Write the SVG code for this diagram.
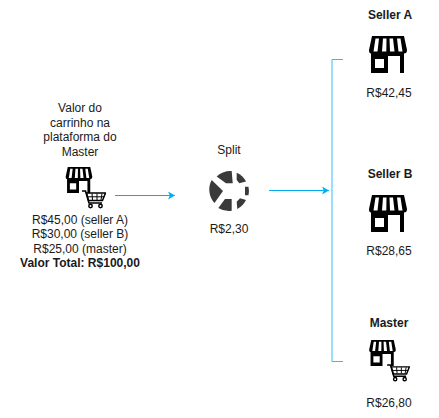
<svg xmlns="http://www.w3.org/2000/svg" xmlns:xlink="http://www.w3.org/1999/xlink" width="439" height="418" viewBox="0 0 439 418">
<style>
text{font-family:"Liberation Sans",Arial,sans-serif;font-size:12px;fill:#1a1a1a;text-anchor:middle}
.b{font-weight:bold}
.c{fill:none;stroke:#00aeef;stroke-width:1}
</style>
<defs>
<marker id="a" markerWidth="8" markerHeight="8" refX="7" refY="4" orient="auto" markerUnits="userSpaceOnUse"><path d="M0 0L7 4L0 8L1.8 4Z" fill="#00aeef"/></marker>
<symbol id="store" viewBox="0 0 38 37">
<path fill="#000" fill-rule="evenodd" d="M3 0H35L38 14Q38 17.500 35 17.500V37H31V20H19V37H2V17.500Q0 17.500 0 14ZM6 23V32H15V23Z"/>
<path fill="#fff" d="M6.500 2.500H10L8.500 15.500H4.500ZM14 2.500H17.500L17.300 15.500H13ZM20.500 2.500H24L25.500 15.500H21ZM28 2.500H31.500L33.500 15.500H29.500Z"/>
</symbol>
<symbol id="cart" viewBox="0 0 24 19">
<g fill="none" stroke="#000">
<path stroke-width="1.6" d="M0 1H3.500L7 13H20"/>
<path stroke-width="1.500" d="M4.500 3H23.500L20.500 10.500H6.500Z"/>
<path stroke-width="1" d="M10 3.500L10.500 10M15 3.500V10M20 3.500L19 10M5.500 6.800H22"/>
<circle cx="8.500" cy="16" r="1.700" stroke-width="1.500"/>
<circle cx="18.500" cy="16" r="1.700" stroke-width="1.500"/>
</g>
</symbol>
</defs>
<g id="connectors">
<path class="c" d="M115 195.500H175" marker-end="url(#a)"/>
<path class="c" d="M269 190.500H329" marker-end="url(#a)"/>
<path class="c" d="M343 59.500H332V361.500H343" style="stroke:#33bef2"/>
</g>
<g id="cart-node">
<text x="80" y="112">Valor do</text>
<text x="80" y="126.500">carrinho na</text>
<text x="80" y="141">plataforma do</text>
<text x="80" y="155.500">Master</text>
<use xlink:href="#store" href="#store" x="65" y="167" width="28" height="26"/>
<use xlink:href="#cart" href="#cart" x="82" y="190" width="24" height="19"/>
<text x="80" y="224">R$45,00 (seller A)</text>
<text x="80" y="238">R$30,00 (seller B)</text>
<text x="80" y="253">R$25,00 (master)</text>
<text x="80" y="267" class="b">Valor Total: R$100,00</text>
</g>
<g id="split">
<text x="229" y="154">Split</text>
<g fill="#3a3a3a">
<path d="M211.700 180A20 20 0 0 0 214.500 203L223 191Z"/>
<path d="M216.700 176.500A20 20 0 0 1 231.700 171L232.700 183.300H226Z"/>
<path d="M236.700 172.800A20 20 0 0 1 246 181.500L239.300 183.300L236.700 180Z"/>
<path d="M245 186.700H248.500A20 20 0 0 1 248.500 195.300H245Z"/>
<path d="M246 200A20 20 0 0 1 237.300 209L236.700 201.700L240 198.300Z"/>
<path d="M231.700 210.800A20 20 0 0 1 218.300 208L225 199H231.700Z"/>
</g>
<text x="229" y="233">R$2,30</text>
</g>
<g id="seller-a">
<text x="390" y="19" class="b">Seller A</text>
<use xlink:href="#store" href="#store" x="369" y="36" width="38" height="37"/>
<text x="389" y="97">R$42,45</text>
</g>
<g id="seller-b">
<text x="390" y="178" class="b">Seller B</text>
<use xlink:href="#store" href="#store" x="369" y="195" width="38" height="37"/>
<text x="389" y="255">R$28,65</text>
</g>
<g id="master">
<text x="389" y="327" class="b">Master</text>
<use xlink:href="#store" href="#store" x="369" y="340" width="27" height="26"/>
<use xlink:href="#cart" href="#cart" x="387" y="364" width="23" height="18"/>
<text x="389" y="407">R$26,80</text>
</g>
</svg>
